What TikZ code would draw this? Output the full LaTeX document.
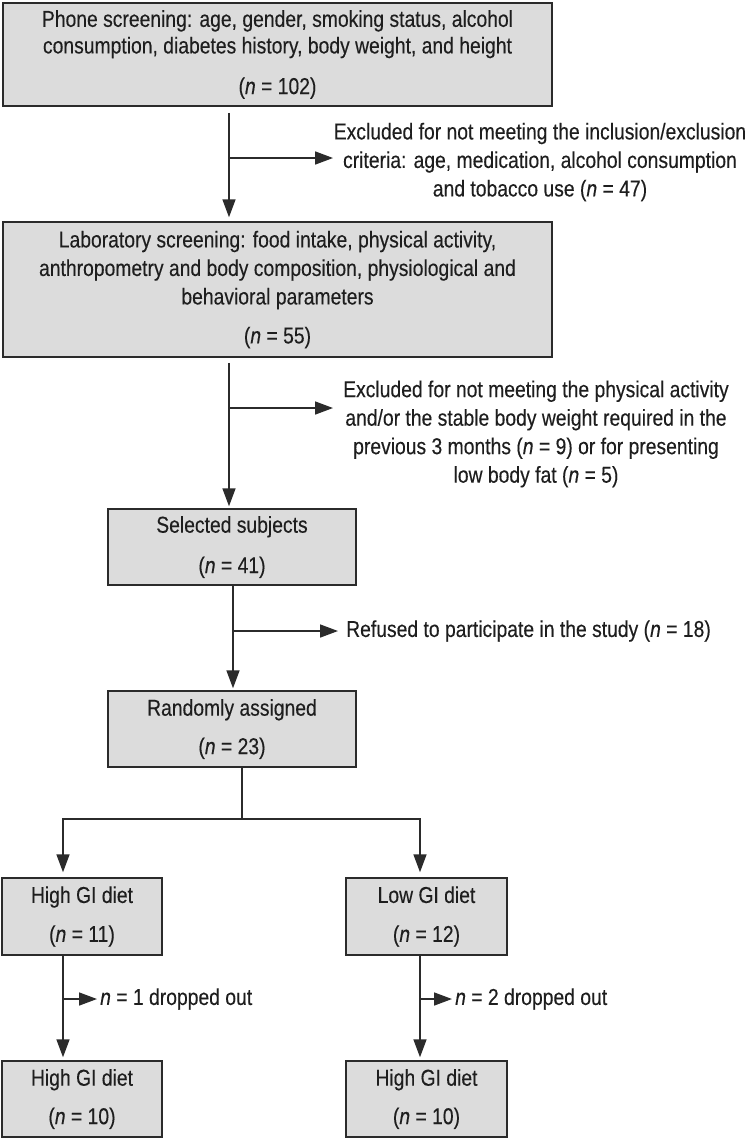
\documentclass[tikz,border=0pt]{standalone}
\usepackage{fontspec}
\setmainfont{Liberation Sans}[FakeStretch=0.84,FakeBold=0.25]
\usetikzlibrary{arrows.meta}
\definecolor{boxfill}{HTML}{DCDCDC}
\definecolor{boxline}{HTML}{2B2B2B}
\definecolor{txt}{HTML}{1E1E1E}
\newcommand{\fsz}{\fontsize{23}{28.5}\selectfont}
\begin{document}
\begin{tikzpicture}[x=1pt,y=-1pt,
  box/.style={draw=boxline, fill=boxfill, line width=1.5pt, inner sep=0pt, align=center, font=\fsz, text=txt},
  lbl/.style={inner sep=0pt, align=center, font=\fsz, text=txt},
  arr/.style={-{Triangle[length=18pt,width=13pt]}, line width=1.6pt, draw=boxline},
  ln/.style={line width=1.6pt, draw=boxline}]
\useasboundingbox (0,0) rectangle (750,1138);
\fill[white] (0,0) rectangle (750,1138);

% boxes
\node[box, font=\fontsize{23}{26.6}\selectfont, minimum width=549pt, minimum height=103pt] (b1) at (277.5,54.5)
  {Phone screening: age, gender, smoking status, alcohol\\consumption, diabetes history, body weight, and height\\[14pt](\textit{n} = 102)};
\node[box, minimum width=549pt, minimum height=135pt] (b2) at (277.5,289.5)
  {Laboratory screening: food intake, physical activity,\\anthropometry and body composition, physiological and\\behavioral parameters\\[10.5pt](\textit{n} = 55)};
\node[box, minimum width=248pt, minimum height=76pt] (b3) at (232,547)
  {Selected subjects\\[12pt](\textit{n} = 41)};
\node[box, minimum width=248pt, minimum height=76pt] (b4) at (232,729)
  {Randomly assigned\\[10pt](\textit{n} = 23)};
\node[box, minimum width=160pt, minimum height=77pt] (b5l) at (82,916.5)
  {High GI diet\\[10.5pt](\textit{n} = 11)};
\node[box, minimum width=161pt, minimum height=77pt] (b5r) at (426.5,916.5)
  {Low GI diet\\[10.5pt](\textit{n} = 12)};
\node[box, minimum width=160pt, minimum height=76pt] (b6l) at (82,1099)
  {High GI diet\\[10pt](\textit{n} = 10)};
\node[box, minimum width=161pt, minimum height=76pt] (b6r) at (426.5,1099)
  {High GI diet\\[10pt](\textit{n} = 10)};

% side labels
\node[lbl] (e1) at (540,162)
  {Excluded for not meeting the inclusion/exclusion\\criteria: age, medication, alcohol consumption\\and tobacco use (\textit{n} = 47)};
\node[lbl] (e2) at (536,434)
  {Excluded for not meeting the physical activity\\and/or the stable body weight required in the\\previous 3 months (\textit{n} = 9) or for presenting\\low body fat (\textit{n} = 5)};
\node[lbl, anchor=west, inner xsep=8pt] (r1) at (338,631)
  {Refused to participate in the study (\textit{n} = 18)};
\node[lbl, anchor=west, inner xsep=3pt] (d1) at (97,999) {\textit{n} = 1 dropped out};
\node[lbl, anchor=west, inner xsep=3pt] (d2) at (452,999) {\textit{n} = 2 dropped out};

% junction coordinates
\coordinate (c1) at (229,0);
\coordinate (j1) at (229,158);
\coordinate (t1) at (333,158);
\coordinate (j2) at (229,408);
\coordinate (t2) at (333,408);
\coordinate (j3) at (233,631);
\coordinate (split) at (242,819);
\coordinate (cl) at (63,0);
\coordinate (cr) at (420,0);
\coordinate (j5l) at (63,999);
\coordinate (j5r) at (420,999);

% connectors
\draw[arr] ([yshift=-6pt]b1.south -| c1) -- ([yshift=4pt]b2.north -| c1);
\draw[arr] (j1) -- (t1);
\draw[arr] ([yshift=-5pt]b2.south -| c1) -- ([yshift=2pt]b3.north -| c1);
\draw[arr] (j2) -- (t2);
\draw[arr] (b3.south -| j3) -- ([yshift=2pt]b4.north -| j3);
\draw[arr] (j3) -- (r1.west);
\draw[ln] (b4.south -| split) -- (split);
\draw[arr] (split) -| ([yshift=5pt]b5l.north -| cl);
\draw[arr] (split) -| ([yshift=5pt]b5r.north -| cr);
\draw[arr] (b5l.south -| cl) -- ([yshift=3pt]b6l.north -| cl);
\draw[arr] (b5r.south -| cr) -- ([yshift=3pt]b6r.north -| cr);
\draw[arr] (j5l) -- (d1.west);
\draw[arr] (j5r) -- (d2.west);
\end{tikzpicture}
\end{document}
